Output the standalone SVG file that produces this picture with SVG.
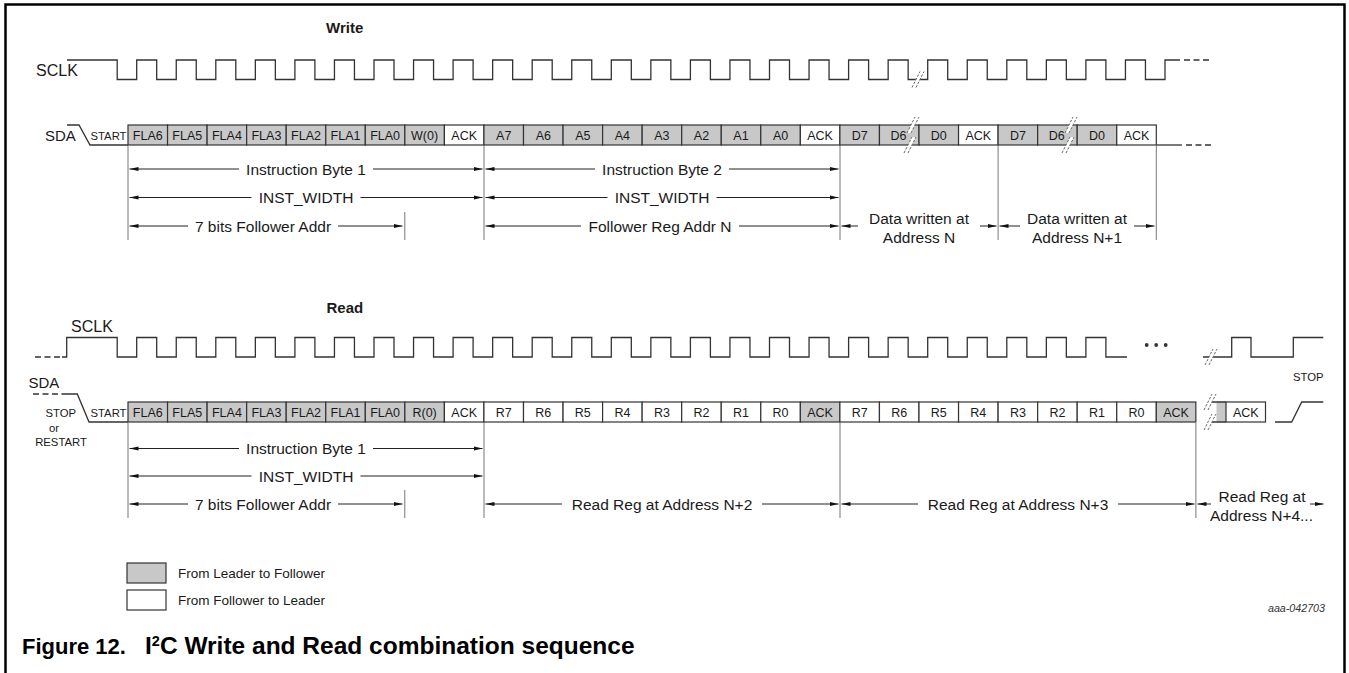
<svg xmlns="http://www.w3.org/2000/svg" xmlns:xlink="http://www.w3.org/1999/xlink" width="1349" height="673" viewBox="0 0 1349 673">
<style>
  text{font-family:"Liberation Sans",Arial,sans-serif;fill:#1a1a1a}
  .lbl{font-size:15px}
  .clk{font-size:16px}
  .ttl{font-size:15px;font-weight:bold}
  .sm{font-size:11.3px}
  .ct{font-size:12.5px;text-anchor:middle}
  .dim{font-size:15.5px;text-anchor:middle}
  .leg{font-size:13.5px}
  .cap{font-weight:bold;fill:#000}
  .wave{fill:none;stroke:#333;stroke-width:1.3}
  .dash{fill:none;stroke:#333;stroke-width:1.3;stroke-dasharray:6,3.5}
  .g{fill:#c8c8c8;stroke:#333;stroke-width:1.2}
  .w{fill:#fff;stroke:#333;stroke-width:1.2}
  .vl{stroke:#777;stroke-width:1;fill:none}
  .ar{stroke:#222;stroke-width:1;fill:none}
  .s{marker-start:url(#ah)}
  .e{marker-end:url(#ah)}
  .frame{stroke:#000;stroke-width:2.5;fill:none}
</style>
<defs>
  <marker id="ah" markerUnits="userSpaceOnUse" markerWidth="10" markerHeight="6" refX="9" refY="3" orient="auto-start-reverse">
    <path d="M0,0.9 L9,3 L0,5.1 z" fill="#111"/>
  </marker>
  <g id="brk">
    <polygon points="-6,8 2,-8 6,-8 -2,8" fill="#fff"/>
    <path d="M-6,8 L2,-8 M-2,8 L6,-8" stroke="#666" stroke-width="1" stroke-dasharray="2.5,1.5" fill="none"/>
  </g>
</defs>

<g id="frame">
  <path class="frame" d="M5.5,673 V4.5 H1344.5 V673"/>
</g>

<!-- WRITE -->
<g id="write-title"><text class="ttl" x="326" y="33">Write</text></g>

<g id="write-sclk">
  <text class="clk" x="36" y="75.5">SCLK</text>
  <path class="wave" d="M67,60 H117.2 V79.5
  H136.7 V60 H156.7 V79.5 H176.25 V60 H196.25 V79.5 H215.8 V60 H235.8 V79.5 H255.35 V60 H275.35 V79.5
  H294.9 V60 H314.9 V79.5 H334.45 V60 H354.45 V79.5 H374 V60 H394 V79.5 H413.55 V60 H433.55 V79.5
  H453.1 V60 H473.1 V79.5 H492.65 V60 H512.65 V79.5 H532.2 V60 H552.2 V79.5 H571.75 V60 H591.75 V79.5
  H611.3 V60 H631.3 V79.5 H650.85 V60 H670.85 V79.5 H690.4 V60 H710.4 V79.5 H729.95 V60 H749.95 V79.5
  H769.5 V60 H789.5 V79.5 H809.05 V60 H829.05 V79.5 H848.6 V60 H868.6 V79.5 H888.15 V60 H908.15 V79.5
  H927.7 V60 H947.7 V79.5 H967.25 V60 H987.25 V79.5 H1006.8 V60 H1026.8 V79.5 H1046.35 V60 H1066.35 V79.5
  H1085.9 V60 H1105.9 V79.5 H1125.45 V60 H1145.45 V79.5 H1165 V60 H1180"/>
  <path class="dash" d="M1184,60 H1211"/>
  <use xlink:href="#brk" href="#brk" x="918" y="79.5"/>
</g>

<g id="write-sda">
  <text class="lbl" x="45" y="141">SDA</text>
  <path class="wave" d="M67,125 H79 L90,145 H128"/>
  <text class="sm" x="126.5" y="139.5" text-anchor="end">START</text>
  <rect class="g" x="128" y="125" width="39.55" height="20"/>
  <rect class="g" x="167.55" y="125" width="39.55" height="20"/>
  <rect class="g" x="207.1" y="125" width="39.55" height="20"/>
  <rect class="g" x="246.65" y="125" width="39.55" height="20"/>
  <rect class="g" x="286.2" y="125" width="39.55" height="20"/>
  <rect class="g" x="325.75" y="125" width="39.55" height="20"/>
  <rect class="g" x="365.3" y="125" width="39.55" height="20"/>
  <rect class="g" x="404.85" y="125" width="39.55" height="20"/>
  <rect class="w" x="444.4" y="125" width="39.55" height="20"/>
  <rect class="g" x="483.95" y="125" width="39.55" height="20"/>
  <rect class="g" x="523.5" y="125" width="39.55" height="20"/>
  <rect class="g" x="563.05" y="125" width="39.55" height="20"/>
  <rect class="g" x="602.6" y="125" width="39.55" height="20"/>
  <rect class="g" x="642.15" y="125" width="39.55" height="20"/>
  <rect class="g" x="681.7" y="125" width="39.55" height="20"/>
  <rect class="g" x="721.25" y="125" width="39.55" height="20"/>
  <rect class="g" x="760.8" y="125" width="39.55" height="20"/>
  <rect class="w" x="800.35" y="125" width="39.55" height="20"/>
  <rect class="g" x="839.9" y="125" width="39.55" height="20"/>
  <rect class="g" x="879.45" y="125" width="39.55" height="20"/>
  <rect class="g" x="919" y="125" width="39.55" height="20"/>
  <rect class="w" x="958.55" y="125" width="39.55" height="20"/>
  <rect class="g" x="998.1" y="125" width="39.55" height="20"/>
  <rect class="g" x="1037.65" y="125" width="39.55" height="20"/>
  <rect class="g" x="1077.2" y="125" width="39.55" height="20"/>
  <rect class="w" x="1116.75" y="125" width="39.55" height="20"/>
  <path class="wave" d="M1156.3,145 H1182"/>
  <path class="dash" d="M1186,145 H1212"/>
  <text class="ct" x="147.8" y="139.5">FLA6</text>
  <text class="ct" x="187.3" y="139.5">FLA5</text>
  <text class="ct" x="226.9" y="139.5">FLA4</text>
  <text class="ct" x="266.4" y="139.5">FLA3</text>
  <text class="ct" x="306" y="139.5">FLA2</text>
  <text class="ct" x="345.5" y="139.5">FLA1</text>
  <text class="ct" x="385.1" y="139.5">FLA0</text>
  <text class="ct" x="424.6" y="139.5">W(0)</text>
  <text class="ct" x="464.2" y="139.5">ACK</text>
  <text class="ct" x="503.7" y="139.5">A7</text>
  <text class="ct" x="543.3" y="139.5">A6</text>
  <text class="ct" x="582.8" y="139.5">A5</text>
  <text class="ct" x="622.4" y="139.5">A4</text>
  <text class="ct" x="661.9" y="139.5">A3</text>
  <text class="ct" x="701.5" y="139.5">A2</text>
  <text class="ct" x="741" y="139.5">A1</text>
  <text class="ct" x="780.6" y="139.5">A0</text>
  <text class="ct" x="820.1" y="139.5">ACK</text>
  <text class="ct" x="859.7" y="139.5">D7</text>
  <text class="ct" x="898.5" y="139.5">D6</text>
  <text class="ct" x="938.8" y="139.5">D0</text>
  <text class="ct" x="978.3" y="139.5">ACK</text>
  <text class="ct" x="1017.9" y="139.5">D7</text>
  <text class="ct" x="1056.7" y="139.5">D6</text>
  <text class="ct" x="1097" y="139.5">D0</text>
  <text class="ct" x="1136.5" y="139.5">ACK</text>
  <use xlink:href="#brk" href="#brk" x="913" y="125"/>
  <use xlink:href="#brk" href="#brk" x="910" y="145"/>
  <use xlink:href="#brk" href="#brk" x="1071" y="125"/>
  <use xlink:href="#brk" href="#brk" x="1068" y="145"/>
</g>

<g id="write-guides">
  <path class="vl" d="M128,146 V240 M404.8,212 V240 M484,146 V240 M840,146 V240 M998.1,146 V240 M1156.3,146 V240"/>
</g>

<!-- READ -->
<g id="read-title"><text class="ttl" x="326.5" y="313">Read</text></g>

<g id="read-sclk">
  <text class="clk" x="71" y="331.5">SCLK</text>
  <path class="dash" d="M35,357 H62"/>
  <path class="wave" d="M62,357 H66.7 V337.5 H117.2 V357
  H136.7 V337.5 H156.7 V357 H176.25 V337.5 H196.25 V357 H215.8 V337.5 H235.8 V357 H255.35 V337.5 H275.35 V357
  H294.9 V337.5 H314.9 V357 H334.45 V337.5 H354.45 V357 H374 V337.5 H394 V357 H413.55 V337.5 H433.55 V357
  H453.1 V337.5 H473.1 V357 H492.65 V337.5 H512.65 V357 H532.2 V337.5 H552.2 V357 H571.75 V337.5 H591.75 V357
  H611.3 V337.5 H631.3 V357 H650.85 V337.5 H670.85 V357 H690.4 V337.5 H710.4 V357 H729.95 V337.5 H749.95 V357
  H769.5 V337.5 H789.5 V357 H809.05 V337.5 H829.05 V357 H848.6 V337.5 H868.6 V357 H888.15 V337.5 H908.15 V357
  H927.7 V337.5 H947.7 V357 H967.25 V337.5 H987.25 V357 H1006.8 V337.5 H1026.8 V357 H1046.35 V337.5 H1066.35 V357
  H1085.9 V337.5 H1105.9 V357 H1127"/>
  <circle cx="1146.7" cy="345" r="1.9" fill="#333"/>
  <circle cx="1156.2" cy="345" r="1.9" fill="#333"/>
  <circle cx="1165.7" cy="345" r="1.9" fill="#333"/>
  <path class="wave" d="M1203,357 H1231.7 V337.5 H1251 V357 H1293.3 V337.5 H1323.3"/>
  <use xlink:href="#brk" href="#brk" x="1211" y="357"/>
  <text class="sm" x="1293" y="381">STOP</text>
</g>

<g id="read-sda">
  <text class="lbl" x="28.5" y="388">SDA</text>
  <path class="dash" d="M33,394 H62"/>
  <path class="wave" d="M62,394 H77.3 L89,422 H128"/>
  <text class="sm" x="76" y="416.5" text-anchor="end">STOP</text>
  <text class="sm" x="126.5" y="416.5" text-anchor="end">START</text>
  <text class="sm" x="54" y="431.5" text-anchor="middle">or</text>
  <text class="sm" x="61" y="446" text-anchor="middle">RESTART</text>
  <rect class="g" x="128" y="402" width="39.55" height="20"/>
  <rect class="g" x="167.55" y="402" width="39.55" height="20"/>
  <rect class="g" x="207.1" y="402" width="39.55" height="20"/>
  <rect class="g" x="246.65" y="402" width="39.55" height="20"/>
  <rect class="g" x="286.2" y="402" width="39.55" height="20"/>
  <rect class="g" x="325.75" y="402" width="39.55" height="20"/>
  <rect class="g" x="365.3" y="402" width="39.55" height="20"/>
  <rect class="g" x="404.85" y="402" width="39.55" height="20"/>
  <rect class="w" x="444.4" y="402" width="39.55" height="20"/>
  <rect class="w" x="483.95" y="402" width="39.55" height="20"/>
  <rect class="w" x="523.5" y="402" width="39.55" height="20"/>
  <rect class="w" x="563.05" y="402" width="39.55" height="20"/>
  <rect class="w" x="602.6" y="402" width="39.55" height="20"/>
  <rect class="w" x="642.15" y="402" width="39.55" height="20"/>
  <rect class="w" x="681.7" y="402" width="39.55" height="20"/>
  <rect class="w" x="721.25" y="402" width="39.55" height="20"/>
  <rect class="w" x="760.8" y="402" width="39.55" height="20"/>
  <rect class="g" x="800.35" y="402" width="39.55" height="20"/>
  <rect class="w" x="839.9" y="402" width="39.55" height="20"/>
  <rect class="w" x="879.45" y="402" width="39.55" height="20"/>
  <rect class="w" x="919" y="402" width="39.55" height="20"/>
  <rect class="w" x="958.55" y="402" width="39.55" height="20"/>
  <rect class="w" x="998.1" y="402" width="39.55" height="20"/>
  <rect class="w" x="1037.65" y="402" width="39.55" height="20"/>
  <rect class="w" x="1077.2" y="402" width="39.55" height="20"/>
  <rect class="w" x="1116.75" y="402" width="39.55" height="20"/>
  <rect class="g" x="1156.3" y="402" width="39.55" height="20"/>
  <text class="ct" x="147.8" y="416.5">FLA6</text>
  <text class="ct" x="187.3" y="416.5">FLA5</text>
  <text class="ct" x="226.9" y="416.5">FLA4</text>
  <text class="ct" x="266.4" y="416.5">FLA3</text>
  <text class="ct" x="306" y="416.5">FLA2</text>
  <text class="ct" x="345.5" y="416.5">FLA1</text>
  <text class="ct" x="385.1" y="416.5">FLA0</text>
  <text class="ct" x="424.6" y="416.5">R(0)</text>
  <text class="ct" x="464.2" y="416.5">ACK</text>
  <text class="ct" x="503.7" y="416.5">R7</text>
  <text class="ct" x="543.3" y="416.5">R6</text>
  <text class="ct" x="582.8" y="416.5">R5</text>
  <text class="ct" x="622.4" y="416.5">R4</text>
  <text class="ct" x="661.9" y="416.5">R3</text>
  <text class="ct" x="701.5" y="416.5">R2</text>
  <text class="ct" x="741" y="416.5">R1</text>
  <text class="ct" x="780.6" y="416.5">R0</text>
  <text class="ct" x="820.1" y="416.5">ACK</text>
  <text class="ct" x="859.7" y="416.5">R7</text>
  <text class="ct" x="899.2" y="416.5">R6</text>
  <text class="ct" x="938.8" y="416.5">R5</text>
  <text class="ct" x="978.3" y="416.5">R4</text>
  <text class="ct" x="1017.9" y="416.5">R3</text>
  <text class="ct" x="1057.4" y="416.5">R2</text>
  <text class="ct" x="1097" y="416.5">R1</text>
  <text class="ct" x="1136.5" y="416.5">R0</text>
  <text class="ct" x="1176.1" y="416.5">ACK</text>
  <rect x="1216.5" y="402" width="9.5" height="20" fill="#c8c8c8"/>
  <path class="wave" d="M1210,402 H1226 M1210,422 H1226"/>
  <use xlink:href="#brk" href="#brk" x="1210" y="402"/>
  <use xlink:href="#brk" href="#brk" x="1210" y="422"/>
  <rect class="w" x="1226" y="402" width="39.5" height="20"/>
  <text class="ct" x="1245.8" y="416.5">ACK</text>
  <path class="wave" d="M1275,422 H1291.7 L1301.7,402 H1323.3"/>
</g>

<g id="read-guides">
  <path class="vl" d="M128,423 V518 M404.8,490 V518 M484,423 V518 M840,423 V518 M1195.9,423 V518"/>
</g>

<!-- dimension arrows -->
<g id="connectors">
  <path class="ar s" d="M129.5,169 H239"/><path class="ar e" d="M373,169 H482.5"/>
  <path class="ar s" d="M485.5,169 H595"/><path class="ar e" d="M729,169 H838.5"/>
  <path class="ar s" d="M129.5,197.5 H251.5"/><path class="ar e" d="M360.5,197.5 H482.5"/>
  <path class="ar s" d="M485.5,197.5 H607.5"/><path class="ar e" d="M716.5,197.5 H838.5"/>
  <path class="ar s" d="M129.5,226 H188"/><path class="ar e" d="M338,226 H402.5"/>
  <path class="ar s" d="M485.5,226 H581"/><path class="ar e" d="M739,226 H838.5"/>
  <path class="ar s" d="M841.5,226 H858"/><path class="ar e" d="M980,226 H996.5"/>
  <path class="ar s" d="M999.5,226 H1020"/><path class="ar e" d="M1134,226 H1154.5"/>

  <path class="ar s" d="M129.5,448.5 H239"/><path class="ar e" d="M373,448.5 H482.5"/>
  <path class="ar s" d="M129.5,476 H251.5"/><path class="ar e" d="M360.5,476 H482.5"/>
  <path class="ar s" d="M129.5,504 H188"/><path class="ar e" d="M338,504 H402.5"/>
  <path class="ar s" d="M485.5,504 H562"/><path class="ar e" d="M762,504 H838.5"/>
  <path class="ar s" d="M841.5,504 H918"/><path class="ar e" d="M1118,504 H1194.5"/>
  <path class="ar s" d="M1197.5,504 H1211"/><path class="ar e" d="M1310,504 H1323.5"/>
</g>

<g id="dim-labels">
  <text class="dim" x="306" y="174.5">Instruction Byte 1</text>
  <text class="dim" x="662" y="174.5">Instruction Byte 2</text>
  <text class="dim" x="306" y="203">INST_WIDTH</text>
  <text class="dim" x="662" y="203">INST_WIDTH</text>
  <text class="dim" x="263" y="231.5">7 bits Follower Addr</text>
  <text class="dim" x="660" y="231.5">Follower Reg Addr N</text>
  <text class="dim" x="919" y="223.5">Data written at</text>
  <text class="dim" x="919" y="242.5">Address N</text>
  <text class="dim" x="1077" y="223.5">Data written at</text>
  <text class="dim" x="1077" y="242.5">Address N+1</text>

  <text class="dim" x="306" y="454">Instruction Byte 1</text>
  <text class="dim" x="306" y="481.5">INST_WIDTH</text>
  <text class="dim" x="263" y="509.5">7 bits Follower Addr</text>
  <text class="dim" x="662" y="509.5">Read Reg at Address N+2</text>
  <text class="dim" x="1018" y="509.5">Read Reg at Address N+3</text>
  <text class="dim" x="1262" y="501.5">Read Reg at</text>
  <text class="dim" x="1261.5" y="520.5">Address N+4...</text>
</g>

<g id="legend">
  <rect class="g" x="127" y="563" width="39" height="20"/>
  <text class="leg" x="178" y="578">From Leader to Follower</text>
  <rect class="w" x="127" y="590" width="39" height="20"/>
  <text class="leg" x="178" y="605">From Follower to Leader</text>
</g>

<g id="ref">
  <text x="1325" y="612" text-anchor="end" style="font-size:10.7px;font-style:italic;fill:#333">aaa-042703</text>
</g>

<g id="caption">
  <text class="cap" x="22" y="654" style="font-size:22px">Figure 12.</text>
  <text class="cap" x="145" y="654" style="font-size:24.5px">I<tspan dy="-8" style="font-size:14.5px">2</tspan><tspan dy="8">C Write and Read combination sequence</tspan></text>
</g>
</svg>
